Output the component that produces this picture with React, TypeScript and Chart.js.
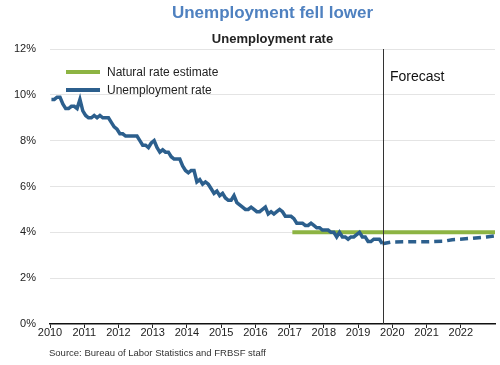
import React, { useEffect, useRef } from "react";
import { Chart, registerables } from "chart.js";

Chart.register(...registerables);

// Monthly unemployment rate, Jan 2010 - Sep 2019 (%)
const startYear = 2010;
const unemploymentRate = [
  9.8, 9.8, 9.9, 9.9, 9.6, 9.4, 9.4, 9.5, 9.5, 9.4, 9.8, 9.3,
  9.1, 9.0, 9.0, 9.1, 9.0, 9.1, 9.0, 9.0, 9.0, 8.8, 8.6, 8.5,
  8.3, 8.3, 8.2, 8.2, 8.2, 8.2, 8.2, 8.0, 7.8, 7.8, 7.7, 7.9,
  8.0, 7.7, 7.5, 7.6, 7.5, 7.5, 7.3, 7.2, 7.2, 7.2, 6.9, 6.7,
  6.6, 6.7, 6.7, 6.2, 6.3, 6.1, 6.2, 6.1, 5.9, 5.7, 5.8, 5.6,
  5.7, 5.5, 5.4, 5.4, 5.6, 5.3, 5.2, 5.1, 5.0, 5.0, 5.1, 5.0,
  4.9, 4.9, 5.0, 5.1, 4.8, 4.9, 4.8, 4.9, 5.0, 4.9, 4.7, 4.7,
  4.7, 4.6, 4.4, 4.4, 4.4, 4.3, 4.3, 4.4, 4.3, 4.2, 4.2, 4.1,
  4.1, 4.1, 4.0, 4.0, 3.8, 4.0, 3.8, 3.8, 3.7, 3.8, 3.8, 3.9,
  4.0, 3.8, 3.8, 3.6, 3.6, 3.7, 3.7, 3.7, 3.5,
];

// Forecast (dashed)
const forecastDates = [2019.71, 2020.0, 2020.5, 2021.0, 2021.5, 2021.75, 2022.25, 2022.75, 2023.0];
const forecastValues = [3.5, 3.58, 3.59, 3.59, 3.61, 3.68, 3.73, 3.8, 3.85];

// Natural rate estimate
const naturalRateDates = [2017.08, 2023.0];
const naturalRateValues = [4.0, 4.0];

const yTicks = [0, 2, 4, 6, 8, 10, 12];
const xTickYears = [2010, 2011, 2012, 2013, 2014, 2015, 2016, 2017, 2018, 2019, 2020, 2021, 2022];
const forecastStart = 2019.74;

const titleText = "Unemployment fell lower";
const subtitleText = "Unemployment rate";
const sourceText = "Source: Bureau of Labor Statistics and FRBSF staff";
const legendLabels = ["Natural rate estimate", "Unemployment rate"];

const BLUE = "#2c5f8d";
const GREEN = "#8db443";
const FONT = "'Liberation Sans', Arial, sans-serif";

export default function App() {
  const ref = useRef<HTMLCanvasElement | null>(null);

  useEffect(() => {
    document.body.style.margin = "0";
    const canvas = ref.current;
    if (!canvas) return;

    const actual = unemploymentRate.map((v, i) => ({
      x: startYear + i / 12 + 1 / 24,
      y: v,
    }));
    const forecast = forecastDates.map((d, i) => ({ x: d, y: forecastValues[i] }));
    const natural = naturalRateDates.map((d, i) => ({ x: d, y: naturalRateValues[i] }));

    const overlay = {
      id: "overlay",
      afterDraw(chart: any) {
        const ctx = chart.ctx as CanvasRenderingContext2D;
        const area = chart.chartArea;
        const xs = chart.scales.x;
        const cx = (area.left + area.right) / 2;
        ctx.save();
        // titles
        ctx.textAlign = "center";
        ctx.textBaseline = "middle";
        ctx.fillStyle = "#4f81c0";
        ctx.font = `bold 17px ${FONT}`;
        ctx.fillText(titleText, cx, 13);
        ctx.fillStyle = "#222";
        ctx.font = `bold 13px ${FONT}`;
        ctx.fillText(subtitleText, cx, 39);

        // forecast line
        const fx = Math.round(xs.getPixelForValue(forecastStart)) + 0.5;
        ctx.strokeStyle = "#333";
        ctx.lineWidth = 1;
        ctx.beginPath();
        ctx.moveTo(fx, area.top);
        ctx.lineTo(fx, area.bottom);
        ctx.stroke();
        ctx.fillStyle = "#111";
        ctx.textAlign = "left";
        ctx.font = `14px ${FONT}`;
        ctx.fillText("Forecast", fx + 6.5, 77);

        // legend
        const colors = [GREEN, BLUE];
        const ys = [72, 90];
        ctx.font = `12px ${FONT}`;
        legendLabels.forEach((lab, i) => {
          ctx.strokeStyle = colors[i];
          ctx.lineWidth = 4;
          ctx.beginPath();
          ctx.moveTo(66, ys[i]);
          ctx.lineTo(100, ys[i]);
          ctx.stroke();
          ctx.fillStyle = "#222";
          ctx.fillText(lab, 107, ys[i] + 0.5);
        });

        // source
        ctx.fillStyle = "#333";
        ctx.font = `9.5px ${FONT}`;
        ctx.fillText(sourceText, 49, 353);
        ctx.restore();
      },
    };

    const chart = new Chart(canvas, {
      type: "line",
      data: {
        datasets: [
          {
            label: "Unemployment rate",
            data: actual,
            borderColor: BLUE,
            borderWidth: 3.5,
            pointRadius: 0,
            tension: 0,
            order: 1,
          },
          {
            label: "Forecast",
            data: forecast,
            borderColor: BLUE,
            borderWidth: 3.5,
            borderDash: [8, 5],
            pointRadius: 0,
            tension: 0,
            order: 2,
          },
          {
            label: "Natural rate estimate",
            data: natural,
            borderColor: GREEN,
            borderWidth: 4,
            borderCapStyle: "butt",
            pointRadius: 0,
            tension: 0,
            order: 3,
          },
        ],
      },
      options: {
        animation: false,
        responsive: false,
        devicePixelRatio: 1,
        layout: { padding: { top: 49, right: 5, bottom: 0, left: 0 } },
        plugins: {
          legend: { display: false },
          title: { display: false },
          tooltip: { enabled: false },
        },
        scales: {
          x: {
            type: "linear",
            min: 2010,
            max: 2023,
            afterBuildTicks: (scale: any) => {
              scale.ticks = xTickYears.map((v) => ({ value: v }));
            },
            afterFit: (scale: any) => {
              scale.height = 41;
            },
            ticks: {
              callback: (v: any) => String(v),
              color: "#222",
              font: { family: FONT, size: 11 },
              padding: -2,
              maxRotation: 0,
              autoSkip: false,
            },
            grid: {
              drawOnChartArea: false,
              drawTicks: true,
              tickLength: 4,
              color: "#222",
            },
            border: { display: true, color: "#111", width: 1.5 },
          },
          y: {
            min: 0,
            max: 12,
            afterBuildTicks: (scale: any) => {
              scale.ticks = yTicks.map((v) => ({ value: v }));
            },
            afterFit: (scale: any) => {
              scale.width = 50;
            },
            ticks: {
              callback: (v: any) => `${v}%`,
              color: "#222",
              font: { family: FONT, size: 11 },
              padding: 14,
            },
            grid: {
              color: (c: any) => (c.tick && c.tick.value === 0 ? "rgba(0,0,0,0)" : "#e4e4e4"),
              drawTicks: false,
              lineWidth: 1,
            },
            border: { display: false },
          },
        },
      },
      plugins: [overlay],
    } as any);

    return () => chart.destroy();
  }, []);

  return (
    <div style={{ width: 500, height: 365 }}>
      <canvas ref={ref} width={500} height={365} style={{ display: "block" }} />
    </div>
  );
}
